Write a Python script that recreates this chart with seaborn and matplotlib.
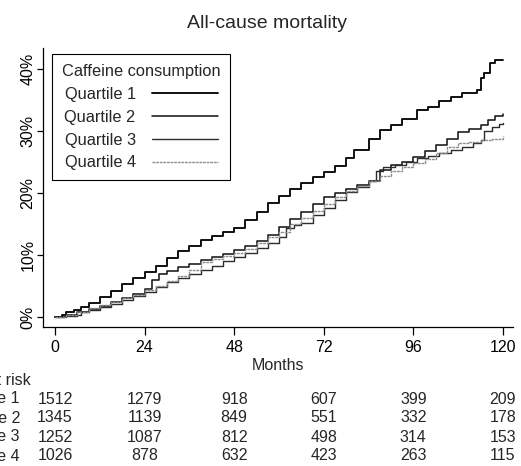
import pandas as pd
import matplotlib
matplotlib.use('Agg')
import matplotlib.pyplot as plt
from matplotlib.transforms import blended_transform_factory
import seaborn as sns


# cumulative mortality (months, percent)
q1_months = [0, 2, 3, 5, 7, 9, 12, 15, 18, 21, 24, 27, 30, 33, 36, 39, 42, 45, 48, 51, 54, 57,
             60, 63, 66, 69, 72, 75, 78, 80, 84, 87, 90, 93, 97, 100, 103, 106, 109, 113, 114,
             115, 116.5, 118, 120]
q1_pct = [0, 0.3, 0.8, 1.2, 1.6, 2.3, 3.2, 4.2, 5.3, 6.3, 7.2, 8.2, 9.5, 10.6, 11.5, 12.4, 13.0,
          13.7, 14.4, 15.6, 17.0, 18.4, 19.6, 20.6, 21.6, 22.6, 23.4, 24.3, 25.6, 27.0, 28.7, 30.2,
          31.0, 32.0, 33.4, 33.9, 34.8, 35.5, 36.1, 36.6, 38.5, 39.4, 41.0, 41.4, 41.4]

q2_months = [0, 3, 6, 9, 12, 15, 18, 21, 24, 26, 28, 30, 33, 36, 39, 42, 45, 48, 51, 54, 57, 60,
             63, 66, 69, 72, 75, 78, 81, 84, 87, 90, 93, 96, 99, 102, 105, 108, 111, 114, 116,
             118, 120]
q2_pct = [0, 0.4, 0.8, 1.3, 1.8, 2.4, 3.1, 3.8, 4.6, 6.0, 7.0, 7.5, 8.0, 8.6, 9.2, 9.7, 10.2,
          10.8, 11.5, 12.3, 13.2, 14.5, 15.8, 17.0, 18.3, 19.3, 20.0, 20.6, 21.3, 22.0, 23.7, 24.5,
          25.0, 25.8, 26.8, 27.7, 28.8, 29.8, 30.4, 31.0, 31.8, 32.5, 32.8]

q3_months = [0, 3, 6, 7, 9, 12, 15, 18, 21, 24, 27, 30, 33, 36, 39, 42, 45, 48, 51, 54, 57, 60,
             62, 64, 66, 69, 72, 75, 78, 81, 84, 86, 88, 91, 94, 97, 100, 103, 106, 109, 112, 114,
             115, 117, 119, 120]
q3_pct = [0, 0.2, 0.3, 0.8, 1.2, 1.6, 2.1, 2.8, 3.4, 4.0, 4.8, 5.6, 6.3, 7.0, 7.6, 8.3, 9.0, 9.7,
          10.4, 11.1, 11.9, 12.9, 14.3, 14.8, 15.2, 16.5, 17.6, 18.9, 20.2, 21.0, 22.0, 23.5, 24.2,
          24.6, 25.0, 25.6, 26.0, 26.5, 27.0, 27.5, 28.0, 28.5, 30.0, 30.6, 31.2, 31.3]

q4_months = [0, 3, 6, 9, 12, 15, 18, 21, 24, 27, 30, 33, 36, 39, 42, 45, 48, 51, 54, 57, 60, 63,
             66, 69, 72, 75, 78, 81, 84, 87, 90, 93, 96, 99, 102, 105, 108, 111, 114, 117, 120]
q4_pct = [0, 0.4, 0.9, 1.4, 1.9, 2.4, 3.0, 3.6, 4.3, 5.0, 5.8, 6.6, 7.6, 8.9, 9.3, 9.8, 10.3,
          11.0, 11.9, 12.9, 13.8, 15.0, 16.0, 17.1, 18.3, 19.4, 20.3, 21.2, 22.0, 22.7, 23.5, 24.2,
          24.8, 25.5, 26.5, 27.5, 28.0, 28.3, 28.5, 28.7, 29.2]

quartiles = ['Quartile 1', 'Quartile 2', 'Quartile 3', 'Quartile 4']
tick_months = [0, 24, 48, 72, 96, 120]
y_ticks = [0, 10, 20, 30, 40]
y_labels = ['0%', '10%', '20%', '30%', '40%']

# numbers at risk under each x tick
at_risk_q1 = [1512, 1279, 918, 607, 399, 209]
at_risk_q2 = [1345, 1139, 849, 551, 332, 178]
at_risk_q3 = [1252, 1087, 812, 498, 314, 153]
at_risk_q4 = [1026, 878, 632, 423, 263, 115]

curves = [(q1_months, q1_pct), (q2_months, q2_pct), (q3_months, q3_pct), (q4_months, q4_pct)]
frames = []
for name, (m, p) in zip(quartiles, curves):
    frames.append(pd.DataFrame({'month': m, 'pct': p, 'group': name}))
df = pd.concat(frames, ignore_index=True)

colors = {'Quartile 1': '#101010', 'Quartile 2': '#181818', 'Quartile 3': '#2c2c2c',
          'Quartile 4': '#8c8c8c'}
widths = {'Quartile 1': 1.4, 'Quartile 2': 1.15, 'Quartile 3': 1.0, 'Quartile 4': 1.0}
styles = {'Quartile 1': '-', 'Quartile 2': '-', 'Quartile 3': '-', 'Quartile 4': (0, (2, 0.6))}

sns.set_theme(style='ticks')
plt.rcParams['font.family'] = ['Liberation Sans', 'DejaVu Sans']
FS = 11.5

W, H = 521, 466
fig = plt.figure(figsize=(W / 100, H / 100), dpi=100)
ax = fig.add_axes([43 / W, 1 - 327 / H, 470 / W, 279 / H])

for q in quartiles:
    sns.lineplot(data=df[df['group'] == q], x='month', y='pct', estimator=None,
                 drawstyle='steps-post', color=colors[q], lw=widths[q], ls=styles[q],
                 label=q, ax=ax)

ax.set_xlim(-3.2, 122.7)
ax.set_ylim(-1.6, 43.4)
ax.set_xticks(tick_months)
ax.set_yticks(y_ticks, y_labels)
plt.setp(ax.get_yticklabels(), rotation=90, va='center')
ax.set_xlabel('')
ax.set_ylabel('')

for side in ['top', 'right']:
    ax.spines[side].set_visible(False)
for side in ['left', 'bottom']:
    ax.spines[side].set_color('black')
    ax.spines[side].set_linewidth(0.9)
ax.tick_params(axis='both', colors='black', width=0.9, labelsize=FS)
ax.tick_params(axis='x', length=5.5, pad=4)
ax.tick_params(axis='y', length=4.3, pad=1)

leg = ax.legend(title='Caffeine consumption', loc='upper left', bbox_to_anchor=(0.019, 0.978),
                borderaxespad=0, markerfirst=False, handlelength=4.0, handletextpad=1.0,
                labelspacing=0.48, borderpad=0.6, fontsize=11.8, title_fontsize=11.8,
                fancybox=False, framealpha=1)
leg.get_frame().set_edgecolor('black')
leg.get_frame().set_linewidth(0.8)

fig.text(267 / W, 1 - 28 / H, 'All-cause mortality', ha='center', va='baseline', fontsize=14)
fig.text(278 / W, 1 - 370 / H, 'Months', ha='center', va='baseline', fontsize=FS)

# at-risk table below the axis (left side is cut off by the figure edge)
tr = blended_transform_factory(ax.transData, fig.transFigure)
fig.text(31 / W, 1 - 385 / H, 'At risk', ha='right', va='baseline', fontsize=FS)
rows = [at_risk_q1, at_risk_q2, at_risk_q3, at_risk_q4]
for i, (name, counts) in enumerate(zip(quartiles, rows)):
    yb = 1 - (403.5 + 19 * i) / H
    fig.text(20 / W, yb, name, ha='right', va='baseline', fontsize=FS)
    for m, n in zip(tick_months, counts):
        ax.text(m, yb, str(n), transform=tr, ha='center', va='baseline', fontsize=FS,
                clip_on=False)

fig.savefig('out.png', dpi=100)
